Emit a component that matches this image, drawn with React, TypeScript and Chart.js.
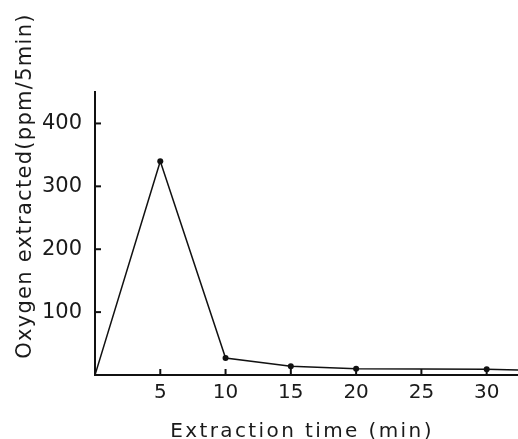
import React, { useEffect, useRef } from "react";
import { Chart, registerables } from "chart.js";

Chart.register(...registerables);

const times = [0, 5, 10, 15, 20, 30, 32.4];
const oxygen = [0, 340, 27, 14, 10, 9, 8];
const xTicks = [5, 10, 15, 20, 25, 30];
const yTicks = [100, 200, 300, 400];
const xTitle = "Extraction time (min)";
const yTitle = "Oxygen extracted(ppm/5min)";

const FONT = '"DejaVu Sans", sans-serif';

const decorPlugin = {
  id: "decor",
  afterDraw(chart: any) {
    const ctx = chart.ctx as CanvasRenderingContext2D;
    const xs = chart.scales.x;
    const ys = chart.scales.y;
    const { left, bottom } = chart.chartArea;
    ctx.save();
    ctx.strokeStyle = "#111";
    ctx.lineWidth = 2;
    xTicks.forEach((v) => {
      const px = xs.getPixelForValue(v);
      ctx.beginPath();
      ctx.moveTo(px, bottom);
      ctx.lineTo(px, bottom - 6);
      ctx.stroke();
    });
    yTicks.forEach((v) => {
      const py = ys.getPixelForValue(v);
      ctx.beginPath();
      ctx.moveTo(left, py);
      ctx.lineTo(left + 6, py);
      ctx.stroke();
    });
    ctx.fillStyle = "#1a1a1a";
    // x title
    (ctx as any).letterSpacing = "2.4px";
    ctx.font = `20px ${FONT}`;
    ctx.textAlign = "center";
    ctx.textBaseline = "alphabetic";
    ctx.fillText(xTitle, 302, 437);
    // y title
    ctx.save();
    ctx.translate(31, 186);
    ctx.rotate(-Math.PI / 2);
    (ctx as any).letterSpacing = "1.3px";
    ctx.font = `21px ${FONT}`;
    ctx.textBaseline = "alphabetic";
    ctx.fillText(yTitle, 0, 0);
    ctx.restore();
    ctx.restore();
  },
};

export default function App() {
  const ref = useRef<HTMLCanvasElement | null>(null);
  useEffect(() => {
    if (!ref.current) return;
    const chart = new Chart(ref.current, {
      type: "line",
      data: {
        datasets: [
          {
            data: times.map((t, i) => ({ x: t, y: oxygen[i] })),
            borderColor: "#111",
            backgroundColor: "#111",
            borderWidth: 1.5,
            pointRadius: (c: any) =>
              c.dataIndex === 0 || c.dataIndex === times.length - 1 ? 0 : 3,
            pointBorderWidth: 0,
            tension: 0,
          },
        ],
      },
      options: {
        animation: false,
        responsive: true,
        maintainAspectRatio: false,
        layout: { padding: { top: 92, right: 0, left: 0, bottom: 0 } },
        plugins: { legend: { display: false }, tooltip: { enabled: false } },
        scales: {
          x: {
            type: "linear",
            min: 0,
            max: 32.4,
            grid: { display: false, drawTicks: false },
            border: { display: true, color: "#111", width: 2 },
            ticks: {
              stepSize: 5,
              includeBounds: false,
              padding: 6,
              color: "#1a1a1a",
              font: { family: FONT, size: 20 },
              callback: (v: any) => (xTicks.includes(Number(v)) ? String(v) : null),
              maxRotation: 0,
            },
            afterFit: (s: any) => {
              s.height = 64;
            },
          },
          y: {
            type: "linear",
            min: 0,
            max: 450,
            grid: { display: false, drawTicks: false },
            border: { display: true, color: "#111", width: 2 },
            ticks: {
              stepSize: 100,
              includeBounds: false,
              padding: 13,
              color: "#1a1a1a",
              font: { family: FONT, size: 21 },
              callback: (v: any) => (yTicks.includes(Number(v)) ? String(v) : null),
            },
            afterFit: (s: any) => {
              s.width = 95;
            },
          },
        },
      },
      plugins: [decorPlugin],
    });
    return () => chart.destroy();
  }, []);
  return (
    <div style={{ position: "fixed", left: 0, top: 0, width: 518, height: 439, background: "#fff" }}>
      <canvas ref={ref} />
    </div>
  );
}
